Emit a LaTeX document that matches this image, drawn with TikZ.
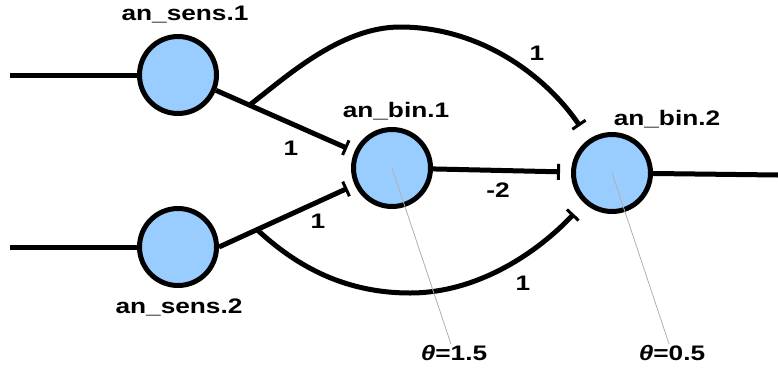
\documentclass[tikz,border=0pt]{standalone}
\usepackage{fontspec}
\setmainfont{Liberation Sans}[FakeStretch=1.25]
\usetikzlibrary{arrows.meta,calc}
\definecolor{nfill}{HTML}{99CCFF}
\definecolor{gline}{RGB}{175,175,175}
\begin{document}
\begin{tikzpicture}[x=1pt,y=-1pt,
  neuron/.style={circle,draw,line width=5pt,fill=nfill,minimum size=77pt,inner sep=0pt},
  conn/.style={line width=5pt},
  inhib/.style={conn,-{Bar[width=16pt,line width=3pt]}},
  lbl/.style={font=\fontsize{21}{25}\selectfont\bfseries,inner sep=1pt},
  guide/.style={draw=gline,line width=0.8pt}]
\useasboundingbox (0,0) rectangle (778,372);
% neurons
\node[neuron] (s1) at (178,75) {};
\node[neuron] (s2) at (178,247) {};
\node[neuron] (b1) at (392,168) {};
\node[neuron] (b2) at (612,173) {};
% names
\node[lbl] (ls1) at (185,15) {an\_sens.1};
\node[lbl] (ls2) at (179,307) {an\_sens.2};
\node[lbl] (lb1) at (396,111) {an\_bin.1};
\node[lbl] (lb2) at (667,119) {an\_bin.2};
% thresholds
\node[lbl] (t1) at (454,353) {{\itshape θ}=1.5};
\node[lbl] (t2) at (672,353) {{\itshape θ}=0.5};
% free ends and helper points
\coordinate (in1) at (10,75);
\coordinate (in2) at (10,247);
\coordinate (out) at (778,175);
\coordinate (B1) at ($(s1.-22)!0.19!(b1)$);
\coordinate (B2) at ($(s2.east)!0.22!(b1)$);
\coordinate (p1) at (400,27);
\coordinate (p2) at (410,293);
% connectors
\draw[conn] (in1) -- (s1);
\draw[conn] (in2) -- (s2);
\draw[conn] (b2) -- (out);
\draw[inhib,shorten >=8pt] (s1.-22) -- (b1);
\draw[inhib,shorten >=8pt] (s2.east) -- (b1);
\draw[inhib,shorten >=11pt] (b1) -- (b2);
\draw[inhib,shorten >=16pt] (B1) .. controls (285,78) and (340,27) .. (p1)
      .. controls (480,27) and (545,75) .. (b2);
\draw[inhib,shorten >=15pt] (B2) .. controls (292,262) and (340,293) .. (p2)
      .. controls (480,293) and (540,250) .. (b2);
% weights
\node[lbl] (w1) at (291,148) {1};
\node[lbl] (w2) at (318,221) {1};
\node[lbl] (w3) at (537,53) {1};
\node[lbl] (w4) at (523,283) {1};
\node[lbl] (w5) at (498,190) {-2};
% guide lines
\draw[guide] (b1.center) -- (t1);
\draw[guide] (b2.center) -- (t2);
\end{tikzpicture}
\end{document}
